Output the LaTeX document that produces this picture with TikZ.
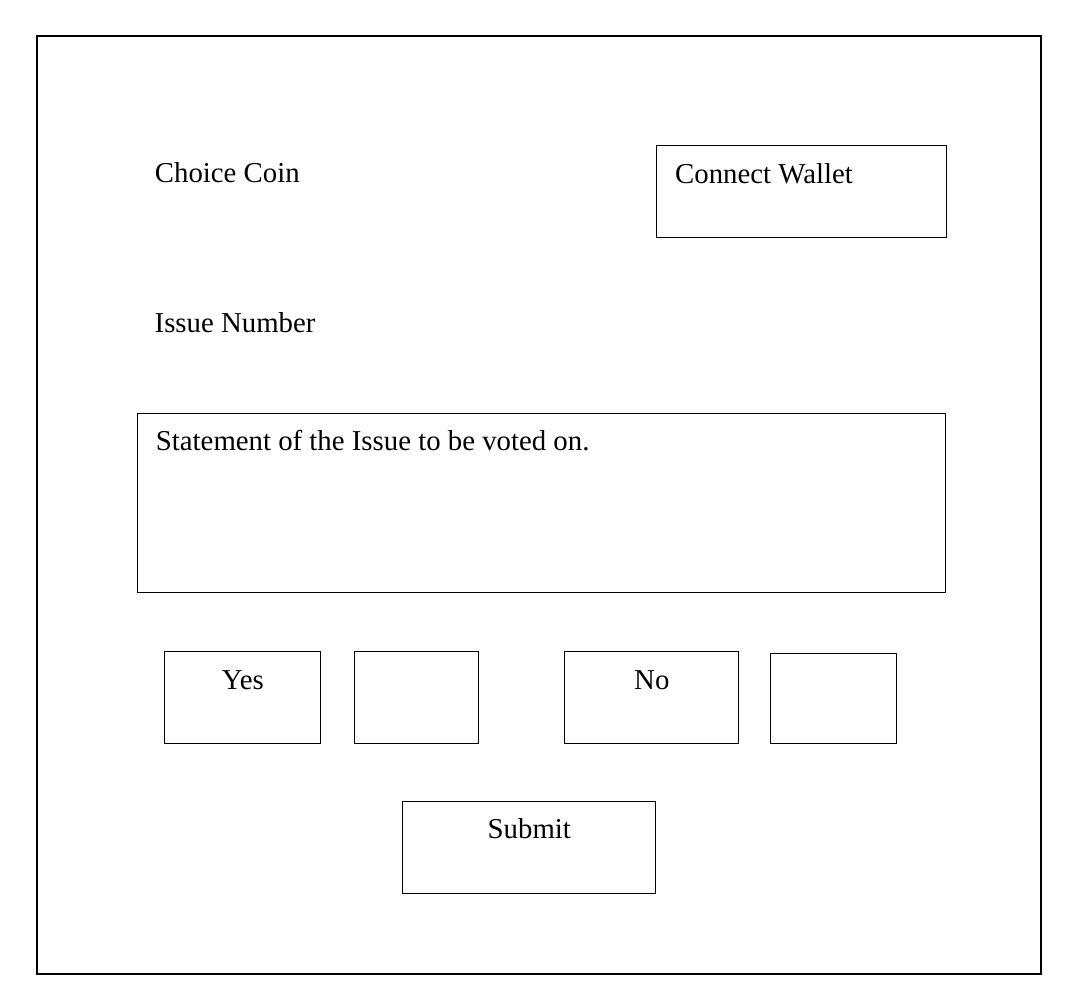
\documentclass[tikz,border=0pt]{standalone}
\usepackage{fontspec}
\setmainfont{Liberation Serif}
\usetikzlibrary{calc}
\begin{document}
\begin{tikzpicture}[x=1pt,y=-1pt,
  box/.style={draw, line width=1pt, inner sep=0pt, anchor=north west},
  lbl/.style={inner sep=0pt, font=\fontsize{28.8}{34}\selectfont}]
\useasboundingbox (0,0) rectangle (1082,998);
\node[box, line width=2pt, minimum width=1004pt, minimum height=938pt] (frame) at (36,35) {};
\node[box, minimum width=289.7pt, minimum height=92pt] (cw) at (656.3,145) {};
\node[box, minimum width=808.6pt, minimum height=179pt] (st) at (136.7,413.3) {};
\node[box, minimum width=156pt, minimum height=91.7pt] (yes) at (164.3,651.3) {};
\node[box, minimum width=124pt, minimum height=91.7pt] (yesbox) at (354.3,651.3) {};
\node[box, minimum width=174pt, minimum height=91.7pt] (no) at (564.3,651.3) {};
\node[box, minimum width=126pt, minimum height=89.7pt] (nobox) at (770.3,653.3) {};
\node[box, minimum width=253pt, minimum height=91.7pt] (sub) at (402.3,801.3) {};
\node[lbl, anchor=base west] (title) at (154.7,182.7) {Choice Coin};
\node[lbl, anchor=base west] (issue) at (154.5,332.7) {Issue Number};
\node[lbl, anchor=base west] (cwt) at ($(cw.north west)+(18.7,38.3)$) {Connect Wallet};
\node[lbl, anchor=base west] (stt) at ($(st.north west)+(19,36.7)$) {Statement of the Issue to be voted on.};
\node[lbl, anchor=base] (yest) at ($(yes.north)+(0,37.7)$) {Yes};
\node[lbl, anchor=base] (not) at ($(no.north)+(0,37.7)$) {No};
\node[lbl, anchor=base] (subt) at ($(sub.north)+(0,37)$) {Submit};
\end{tikzpicture}
\end{document}
